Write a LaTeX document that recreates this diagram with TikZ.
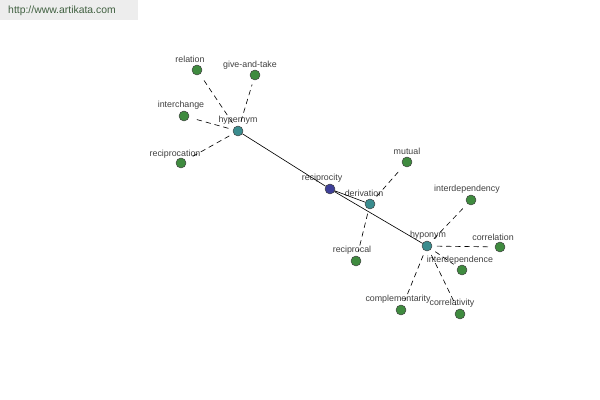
\documentclass[tikz,border=0pt]{standalone}
\usepackage{fontspec}
\setmainfont{Liberation Sans}
\definecolor{rootblue}{HTML}{3E3F98}
\definecolor{hubteal}{HTML}{3A8C8E}
\definecolor{leafgreen}{HTML}{3F8B3F}
\definecolor{stampink}{HTML}{3F5F3F}
\begin{document}
\begin{tikzpicture}[x=0.025cm, y=-0.025cm, font=\fontsize{6.3}{7}\selectfont, line join=round, line cap=round,
	dot/.style={circle, draw=black!75, line width=0.35pt, minimum size=0.25cm, inner sep=0pt},
	root/.style={dot, fill=rootblue},
	hub/.style={dot, fill=hubteal},
	leaf/.style={dot, fill=leafgreen},
	word/.style={inner sep=0pt, text=black!75},
	link/.style={line width=0.45pt},
	sublink/.style={line width=0.45pt, dash pattern=on 3.5pt off 3pt, shorten <=3.5pt, shorten >=3.5pt}]
	\path[use as bounding box] (0,0) rectangle (600,400);
	% site stamp
	\fill[black!7] (0,0) rectangle (138,20);
	\node[inner sep=0pt, text=stampink, font=\fontsize{7.4}{8}\selectfont] (site) at (62,11) {http://www.artikata.com};
	% centre and relation types
	\node[root] (reciprocity) at (330,189) {};
	\foreach \n/\x/\y in {hypernym/238/131, derivation/370/204, hyponym/427/246}{
		\node[hub] (\n) at (\x,\y) {};
	}
	\foreach \n/\x/\y in {reciprocity/322/178, hypernym/238/120, derivation/364/193, hyponym/428/235}{
		\node[word] (\n-w) at (\x,\y) {\n};
	}
	\draw[link] (hypernym)--(reciprocity)--(derivation) (reciprocity)--(hyponym);
	% words
	\foreach \n/\p/\x/\y/\lx/\ly in {relation/hypernym/197/70/190/59, give-and-take/hypernym/255/75/250/65,
		interchange/hypernym/184/116/181/105, reciprocation/hypernym/181/163/175/154,
		mutual/derivation/407/162/407/151, reciprocal/derivation/356/261/352/250,
		interdependency/hyponym/471/200/467/189, correlation/hyponym/500/247/493/237,
		interdependence/hyponym/462/270/460/260, complementarity/hyponym/401/310/398/299,
		correlativity/hyponym/460/314/452/303}{
		\node[leaf] (\n) at (\x,\y) {};
		\node[word] (\n-w) at (\lx,\ly) {\n};
		\draw[sublink] (\p)--(\n);
	}
\end{tikzpicture}
\end{document}
